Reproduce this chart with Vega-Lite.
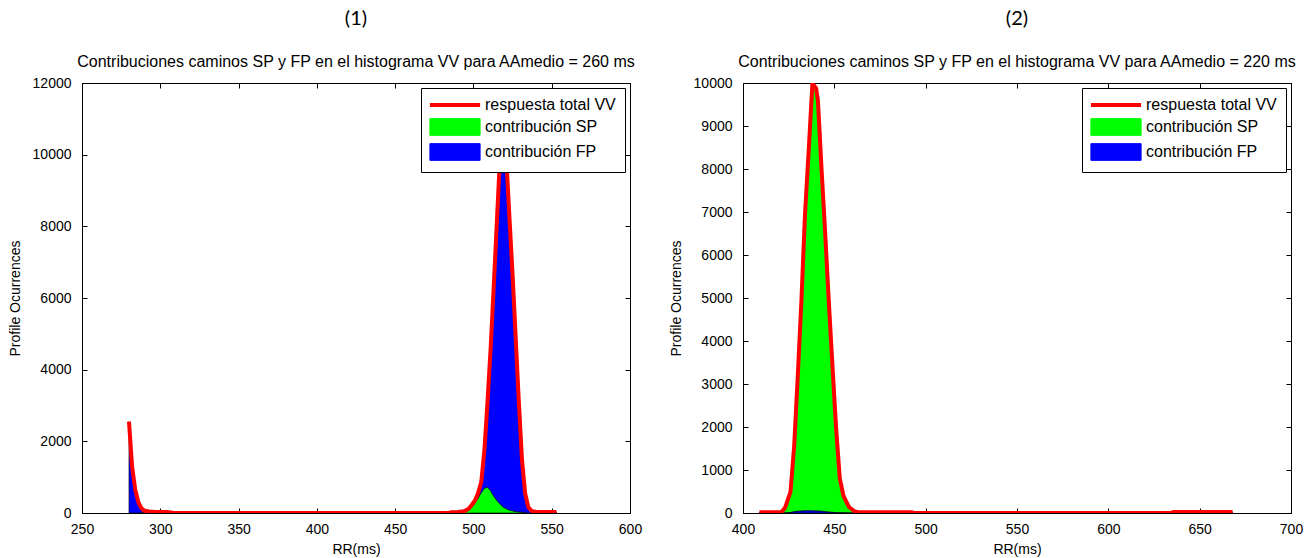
{
  "$schema": "https://vega.github.io/schema/vega-lite/v6.json",
  "autosize": {"type": "pad"},
  "padding": {"left": 7, "top": 8, "right": 17, "bottom": 3},
  "bounds": "flush",
  "spacing": 113,
  "background": "white",
  "datasets": {
    "p1": [
      {"rr": 280, "total": 2550, "sp": 0, "fp": 2550},
      {"rr": 282, "total": 1300, "sp": 0, "fp": 1300},
      {"rr": 284, "total": 650, "sp": 0, "fp": 650},
      {"rr": 286, "total": 300, "sp": 0, "fp": 300},
      {"rr": 288, "total": 130, "sp": 15, "fp": 115},
      {"rr": 290, "total": 60, "sp": 20, "fp": 40},
      {"rr": 293, "total": 40, "sp": 15, "fp": 25},
      {"rr": 297, "total": 30, "sp": 0, "fp": 30},
      {"rr": 302, "total": 30, "sp": 0, "fp": 30},
      {"rr": 305, "total": 25, "sp": 0, "fp": 25},
      {"rr": 308, "total": 5, "sp": 0, "fp": 5},
      {"rr": 310, "total": 0, "sp": 0, "fp": 0},
      {"rr": 484, "total": 0, "sp": 0, "fp": 0},
      {"rr": 486, "total": 20, "sp": 10, "fp": 10},
      {"rr": 490, "total": 30, "sp": 20, "fp": 10},
      {"rr": 494, "total": 50, "sp": 40, "fp": 10},
      {"rr": 497, "total": 120, "sp": 80, "fp": 40},
      {"rr": 499, "total": 230, "sp": 170, "fp": 60},
      {"rr": 501, "total": 350, "sp": 280, "fp": 70},
      {"rr": 503, "total": 560, "sp": 420, "fp": 140},
      {"rr": 505, "total": 860, "sp": 570, "fp": 290},
      {"rr": 507, "total": 1750, "sp": 690, "fp": 1060},
      {"rr": 509, "total": 3100, "sp": 720, "fp": 2380},
      {"rr": 511, "total": 4600, "sp": 620, "fp": 3980},
      {"rr": 513, "total": 6350, "sp": 470, "fp": 5880},
      {"rr": 515, "total": 8150, "sp": 350, "fp": 7800},
      {"rr": 517, "total": 9950, "sp": 250, "fp": 9700},
      {"rr": 519, "total": 10900, "sp": 170, "fp": 10730},
      {"rr": 521, "total": 9900, "sp": 120, "fp": 9780},
      {"rr": 523, "total": 8250, "sp": 80, "fp": 8170},
      {"rr": 525, "total": 6650, "sp": 60, "fp": 6590},
      {"rr": 527, "total": 4880, "sp": 40, "fp": 4840},
      {"rr": 529, "total": 3100, "sp": 30, "fp": 3070},
      {"rr": 531, "total": 1500, "sp": 20, "fp": 1480},
      {"rr": 533, "total": 550, "sp": 10, "fp": 540},
      {"rr": 535, "total": 170, "sp": 0, "fp": 170},
      {"rr": 537, "total": 60, "sp": 0, "fp": 60},
      {"rr": 540, "total": 30, "sp": 0, "fp": 30},
      {"rr": 545, "total": 30, "sp": 0, "fp": 30},
      {"rr": 550, "total": 30, "sp": 0, "fp": 30},
      {"rr": 553, "total": 30, "sp": 0, "fp": 30}
    ],
    "p2": [
      {"rr": 409, "total": 20, "sp": 20, "fp": 0},
      {"rr": 421, "total": 20, "sp": 20, "fp": 0},
      {"rr": 423, "total": 120, "sp": 120, "fp": 0},
      {"rr": 426, "total": 490, "sp": 480, "fp": 10},
      {"rr": 428, "total": 1550, "sp": 1520, "fp": 30},
      {"rr": 430, "total": 3200, "sp": 3160, "fp": 40},
      {"rr": 432, "total": 4950, "sp": 4905, "fp": 45},
      {"rr": 434, "total": 7000, "sp": 6950, "fp": 50},
      {"rr": 436, "total": 8450, "sp": 8400, "fp": 50},
      {"rr": 438, "total": 9990, "sp": 9940, "fp": 50},
      {"rr": 440, "total": 9880, "sp": 9835, "fp": 45},
      {"rr": 441, "total": 9600, "sp": 9555, "fp": 45},
      {"rr": 443, "total": 8000, "sp": 7960, "fp": 40},
      {"rr": 445, "total": 6500, "sp": 6470, "fp": 30},
      {"rr": 447, "total": 4900, "sp": 4880, "fp": 20},
      {"rr": 449, "total": 3400, "sp": 3385, "fp": 15},
      {"rr": 451, "total": 1950, "sp": 1942, "fp": 8},
      {"rr": 453, "total": 800, "sp": 795, "fp": 5},
      {"rr": 455, "total": 400, "sp": 397, "fp": 3},
      {"rr": 458, "total": 140, "sp": 140, "fp": 0},
      {"rr": 461, "total": 40, "sp": 40, "fp": 0},
      {"rr": 463, "total": 20, "sp": 20, "fp": 0},
      {"rr": 492, "total": 20, "sp": 20, "fp": 0},
      {"rr": 494, "total": 0, "sp": 0, "fp": 0},
      {"rr": 634, "total": 0, "sp": 0, "fp": 0},
      {"rr": 636, "total": 25, "sp": 25, "fp": 0},
      {"rr": 668, "total": 25, "sp": 25, "fp": 0}
    ]
  },
  "config": {
    "font": "Liberation Sans",
    "view": {"stroke": "black", "strokeWidth": 1},
    "axis": {
      "grid": false, "domainColor": "black", "domainWidth": 1, "tickColor": "black", "tickSize": -5, "tickWidth": 1,
      "labelFontSize": 14, "labelColor": "black", "labelPadding": 14, "labelFlush": false, "labelOverlap": false,
      "titleFontSize": 14, "titleFontWeight": "normal", "titleColor": "black"
    },
    "axisX": {"titlePadding": 6},
    "axisY": {"titlePadding": 10, "labelPadding": 16},
    "title": {
      "font": "Lato", "fontSize": 20, "fontWeight": "normal", "color": "black",
      "subtitleFont": "Liberation Sans", "subtitleFontSize": 16, "subtitleColor": "black",
      "subtitlePadding": 25, "offset": 6, "anchor": "middle", "frame": "group"
    }
  },
  "resolve": {"scale": {"color": "independent"}, "legend": {"color": "independent"}},
  "hconcat": [
    {
      "width": 548, "height": 430,
      "title": {"text": "(1)", "subtitle": "Contribuciones caminos SP y FP en el histograma VV para AAmedio = 260 ms"},
      "data": {"name": "p1"},
      "resolve": {"axis": {"x": "independent", "y": "independent"}},
      "layer": [
        {
          "transform": [{"fold": ["sp", "fp"], "as": ["serie", "n"]}],
          "mark": {"type": "area", "stroke": "black", "strokeWidth": 0.6, "clip": true},
          "encoding": {
            "x": {"field": "rr", "type": "quantitative", "scale": {"domain": [250, 600], "nice": false},
                  "axis": {"values": [250, 300, 350, 400, 450, 500, 550, 600], "title": "RR(ms)"}},
            "y": {"field": "n", "type": "quantitative", "stack": "zero", "scale": {"domain": [0, 12000], "nice": false},
                  "axis": {"values": [0, 2000, 4000, 6000, 8000, 10000, 12000], "title": "Profile Ocurrences", "format": "d"}},
            "color": {"field": "serie", "type": "nominal",
                      "scale": {"domain": ["total", "sp", "fp"], "range": ["#ff0000", "#00ff00", "#0000ff"]},
                      "legend": {
                        "orient": "top-right", "offset": 5, "title": null,
                        "strokeColor": "black", "fillColor": "white", "padding": 9,
                        "labelFont": "Liberation Sans", "labelFontSize": 16, "labelColor": "black",
                        "symbolSize": 280, "symbolOffset": 17, "labelOffset": 22, "rowPadding": 3,
                        "symbolType": "M-3,-1H3V1H-3Z", "symbolStrokeColor": "black", "symbolStrokeWidth": 1, "symbolOpacity": 1,
                        "labelExpr": "datum.label == 'total' ? 'respuesta total VV' : datum.label == 'sp' ? 'contribución SP' : 'contribución FP'",
                        "encode": {
                          "symbols": {
                            "update": {
                              "shape": {"signal": "datum.value == 'total' ? 'M-3,0H3' : 'M-3,-1H3V1H-3Z'"},
                              "fill": {"signal": "datum.value == 'total' ? 'transparent' : datum.value == 'sp' ? '#00ff00' : '#0000ff'"},
                              "stroke": {"signal": "datum.value == 'total' ? '#ff0000' : '#000000'"},
                              "strokeWidth": {"signal": "datum.value == 'total' ? 4 : 1"},
                              "opacity": {"value": 1},
                              "fillOpacity": {"value": 1},
                              "strokeOpacity": {"value": 1}
                            }
                          }
                        }
                      }},
            "order": {"field": "serie", "sort": "descending"}
          }
        },
        {
          "mark": {"type": "line", "strokeWidth": 4, "clip": true, "strokeJoin": "round"},
          "encoding": {
            "x": {"field": "rr", "type": "quantitative",
                  "axis": {"orient": "top", "labels": false, "title": null, "values": [250, 300, 350, 400, 450, 500, 550, 600]}},
            "y": {"field": "total", "type": "quantitative",
                  "axis": {"orient": "right", "labels": false, "title": null, "values": [0, 2000, 4000, 6000, 8000, 10000, 12000]}},
            "color": {"datum": "total"}
          }
        }
      ]
    },
    {
      "width": 548, "height": 430,
      "title": {"text": "(2)", "subtitle": "Contribuciones caminos SP y FP en el histograma VV para AAmedio = 220 ms"},
      "data": {"name": "p2"},
      "resolve": {"axis": {"x": "independent", "y": "independent"}},
      "layer": [
        {
          "transform": [{"fold": ["sp", "fp"], "as": ["serie", "n"]}],
          "mark": {"type": "area", "stroke": "black", "strokeWidth": 0.6, "clip": true},
          "encoding": {
            "x": {"field": "rr", "type": "quantitative", "scale": {"domain": [400, 700], "nice": false},
                  "axis": {"values": [400, 450, 500, 550, 600, 650, 700], "title": "RR(ms)"}},
            "y": {"field": "n", "type": "quantitative", "stack": "zero", "scale": {"domain": [0, 10000], "nice": false},
                  "axis": {"values": [0, 1000, 2000, 3000, 4000, 5000, 6000, 7000, 8000, 9000, 10000], "title": "Profile Ocurrences", "format": "d"}},
            "color": {"field": "serie", "type": "nominal",
                      "scale": {"domain": ["total", "sp", "fp"], "range": ["#ff0000", "#00ff00", "#0000ff"]},
                      "legend": {
                        "orient": "top-right", "offset": 5, "title": null,
                        "strokeColor": "black", "fillColor": "white", "padding": 9,
                        "labelFont": "Liberation Sans", "labelFontSize": 16, "labelColor": "black",
                        "symbolSize": 280, "symbolOffset": 17, "labelOffset": 22, "rowPadding": 3,
                        "symbolType": "M-3,-1H3V1H-3Z", "symbolStrokeColor": "black", "symbolStrokeWidth": 1, "symbolOpacity": 1,
                        "labelExpr": "datum.label == 'total' ? 'respuesta total VV' : datum.label == 'sp' ? 'contribución SP' : 'contribución FP'",
                        "encode": {
                          "symbols": {
                            "update": {
                              "shape": {"signal": "datum.value == 'total' ? 'M-3,0H3' : 'M-3,-1H3V1H-3Z'"},
                              "fill": {"signal": "datum.value == 'total' ? 'transparent' : datum.value == 'sp' ? '#00ff00' : '#0000ff'"},
                              "stroke": {"signal": "datum.value == 'total' ? '#ff0000' : '#000000'"},
                              "strokeWidth": {"signal": "datum.value == 'total' ? 4 : 1"},
                              "opacity": {"value": 1},
                              "fillOpacity": {"value": 1},
                              "strokeOpacity": {"value": 1}
                            }
                          }
                        }
                      }},
            "order": {"field": "serie", "sort": "ascending"}
          }
        },
        {
          "mark": {"type": "line", "strokeWidth": 4, "clip": true, "strokeJoin": "round"},
          "encoding": {
            "x": {"field": "rr", "type": "quantitative",
                  "axis": {"orient": "top", "labels": false, "title": null, "values": [400, 450, 500, 550, 600, 650, 700]}},
            "y": {"field": "total", "type": "quantitative",
                  "axis": {"orient": "right", "labels": false, "title": null, "values": [0, 1000, 2000, 3000, 4000, 5000, 6000, 7000, 8000, 9000, 10000]}},
            "color": {"datum": "total"}
          }
        }
      ]
    }
  ]
}
